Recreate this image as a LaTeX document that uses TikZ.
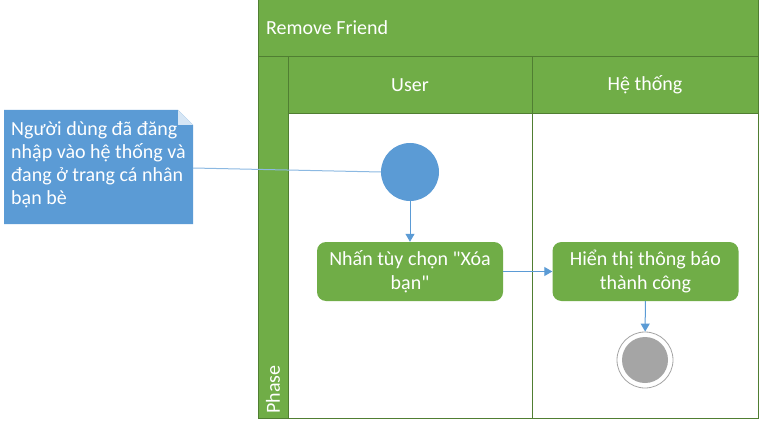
\documentclass[tikz,border=0pt]{standalone}
\usepackage{fontspec}
\setmainfont{Carlito}
\usetikzlibrary{arrows.meta}
\definecolor{lanegreen}{HTML}{70AD47}
\definecolor{edgegreen}{HTML}{507E32}
\definecolor{noteblue}{HTML}{5B9BD5}
\definecolor{endgray}{HTML}{A5A5A5}
\tikzset{
  lanebox/.style={draw=edgegreen, line width=1pt, fill=lanegreen},
  hdr/.style={text=white, font=\fontsize{20}{24}\selectfont},
  actionbox/.style={draw=none, fill=lanegreen, rounded corners=9pt, minimum width=186pt, minimum height=59pt, text=white, align=center, font=\fontsize{20}{23.5}\selectfont},
  flow/.style={draw=noteblue, line width=1pt, -{Triangle[length=8pt,width=9pt]}},
}
\begin{document}
\begin{tikzpicture}[x=1pt,y=-1pt]
\useasboundingbox (0,0) rectangle (760,425);
% swimlane frame
\fill[white] (288,114) rectangle (758,418);
\draw[lanebox] (258,0) rectangle (758,57);
\draw[lanebox] (258,57) rectangle (288,418);
\draw[lanebox] (288,57) rectangle (532,114);
\draw[lanebox] (532,57) rectangle (758,114);
\draw[edgegreen, line width=1pt] (288,114) rectangle (758,418);
\draw[edgegreen, line width=1pt] (532,114) -- (532,418);
\node[hdr, anchor=west, inner sep=0pt] (title) at (266,28) {Remove Friend};
\node[hdr] (user) at (410,85) {User};
\node[hdr] (sys) at (645,85) {Hệ thống};
\node[hdr, rotate=90, anchor=west, inner sep=0pt] (phase) at (273,414) {Phase};
% note
\fill[noteblue] (4,110) -- (178,110) -- (193,125) -- (193,224) -- (4,224) -- cycle;
\fill[white!75!noteblue] (178,110) -- (193,125) -- (178,125) -- cycle;
\coordinate (notepoint) at (193,168);
\node[anchor=north west, text=white, align=left, inner sep=0pt, font=\fontsize{20}{23.3}\selectfont] (note) at (11,121) {Người dùng đã đăng\\nhập vào hệ thống và\\đang ở trang cá nhân\\bạn bè};
% nodes
\node[circle, fill=noteblue, minimum size=58pt, inner sep=0pt] (start) at (410,172) {};
\node[actionbox] (a1) at (410,271.5) {Nhấn tùy chọn \textquotedbl Xóa\\bạn\textquotedbl};
\node[actionbox] (a2) at (645.5,271.5) {Hiển thị thông báo\\thành công};
\node[circle, draw=endgray, line width=0.8pt, fill=white, minimum size=56pt, inner sep=0pt] (endo) at (645,360) {};
\node[circle, fill=endgray, minimum size=46pt, inner sep=0pt] (endi) at (645,360) {};
% connectors
\draw[noteblue!70, line width=1pt] (notepoint) -- (start.west);
\draw[flow] (start) -- (a1);
\draw[flow] (a1) -- (a2);
\draw[flow] (a2) -- (endo);
\end{tikzpicture}
\end{document}
